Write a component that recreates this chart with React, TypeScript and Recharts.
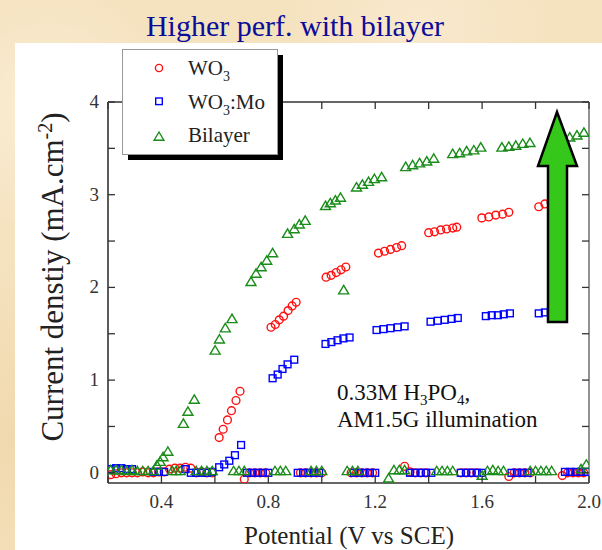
import React from 'react';
import { ScatterChart, Scatter, XAxis, YAxis } from 'recharts';

// axis ticks
const xTicks = [0.2, 0.4, 0.6, 0.8, 1.0, 1.2, 1.4, 1.6, 1.8, 2.0];
const xTickLabels = ['', '0.4', '', '0.8', '', '1.2', '', '1.6', '', '2.0'];
const yTicks = [0, 0.5, 1, 1.5, 2, 2.5, 3, 3.5, 4];
const yTickLabels = ['0', '', '1', '', '2', '', '3', '', '4'];

// WO3 (chopped light: light-on groups and dark groups)
const wo3Potential = [
  0.21, 0.23, 0.25, 0.27, 0.29, 0.31, 0.33, 0.35, 0.37, 0.39, 0.41,
  0.43, 0.45, 0.47, 0.49, 0.51,
  0.53, 0.55, 0.57, 0.59,
  0.616, 0.631, 0.647, 0.662, 0.679, 0.694,
  0.71, 0.73, 0.75, 0.77, 0.79,
  0.81, 0.826, 0.841, 0.857, 0.874, 0.889, 0.904,
  0.92, 0.94, 0.96, 0.98, 1.0,
  1.016, 1.035, 1.054, 1.072, 1.09,
  1.11, 1.13, 1.15, 1.17, 1.19,
  1.212, 1.235, 1.257, 1.28, 1.299,
  1.31, 1.33, 1.35, 1.37, 1.39,
  1.4, 1.422, 1.445, 1.467, 1.49, 1.505,
  1.52, 1.54, 1.56, 1.58,
  1.599, 1.625, 1.651, 1.677, 1.7,
  1.7, 1.72, 1.74, 1.76, 1.78,
  1.812, 1.835, 1.858, 1.88,
  1.9, 1.92, 1.94, 1.96, 1.98,
];
const wo3Current = [
  -0.02, -0.01, 0, 0, 0, 0, 0.01, 0, 0, 0.01, 0.01,
  0.04, 0.05, 0.05, 0.06, 0.05,
  0, 0.01, 0, 0,
  0.38, 0.47, 0.57, 0.67, 0.78, 0.88,
  -0.07, 0, 0, 0, 0,
  1.57, 1.6, 1.65, 1.69, 1.75, 1.8, 1.84,
  0, 0, 0, 0, 0,
  2.11, 2.13, 2.16, 2.19, 2.22,
  0, 0, 0, 0, 0,
  2.37, 2.39, 2.41, 2.43, 2.45,
  0.07, 0.01, 0, 0, 0,
  2.59, 2.6, 2.62, 2.63, 2.64, 2.65,
  0, 0, 0, 0,
  2.75, 2.76, 2.78, 2.79, 2.81,
  -0.04, 0, 0, 0, 0,
  2.87, 2.9, 2.92, 2.94,
  -0.03, 0, 0, 0, 0,
];

// WO3:Mo
const moPotential = [
  0.21, 0.23, 0.25, 0.27, 0.29,
  0.37, 0.39, 0.41,
  0.49, 0.51, 0.53, 0.55, 0.57, 0.59,
  0.616, 0.635, 0.654, 0.675, 0.698,
  0.72, 0.74, 0.76, 0.78, 0.8,
  0.816, 0.835, 0.853, 0.872, 0.897,
  0.91, 0.93, 0.95, 0.97, 0.99,
  1.014, 1.036, 1.059, 1.081, 1.104,
  1.12, 1.14, 1.16, 1.18, 1.2,
  1.205, 1.231, 1.257, 1.284, 1.31,
  1.33, 1.35, 1.37, 1.39, 1.41,
  1.407, 1.434, 1.46, 1.486, 1.509,
  1.52, 1.54, 1.56, 1.58, 1.6,
  1.614, 1.636, 1.659, 1.681, 1.704,
  1.71, 1.73, 1.75, 1.77,
  1.812, 1.835, 1.857, 1.88,
  1.91, 1.93, 1.95, 1.97, 1.99,
];
const moCurrent = [
  0.04, 0.05, 0.05, 0.04, 0.04,
  0.01, 0.01, 0.01,
  0.04, 0, 0, 0, 0, 0.01,
  0.06, 0.09, 0.13, 0.19, 0.3,
  0, 0, 0, 0, 0,
  1.02, 1.06, 1.12, 1.17, 1.22,
  0, 0, 0, 0, 0,
  1.39, 1.41, 1.43, 1.45, 1.46,
  0, 0, 0, 0, 0,
  1.54, 1.55, 1.56, 1.57, 1.58,
  0, 0, 0, 0, 0,
  1.63, 1.64, 1.65, 1.66, 1.67,
  0, 0, 0, 0, 0,
  1.69, 1.7, 1.7, 1.71, 1.72,
  0, 0, 0, 0,
  1.72, 1.73, 1.74, 1.75,
  0.01, 0.01, 0.01, 0.01, 0.01,
];

// Bilayer
const bilayerPotential = [
  0.21, 0.23, 0.25, 0.27, 0.29, 0.31, 0.33, 0.35, 0.37,
  0.383, 0.395, 0.406, 0.424,
  0.44, 0.455, 0.47,
  0.482, 0.499, 0.523,
  0.53, 0.55, 0.57, 0.59,
  0.601, 0.617, 0.639, 0.664,
  0.67, 0.69, 0.71,
  0.735, 0.754, 0.773, 0.794, 0.816,
  0.825, 0.845, 0.865,
  0.872, 0.897, 0.916, 0.938,
  0.96, 0.98, 1.0,
  1.014, 1.032, 1.051, 1.07,
  1.082,
  1.095, 1.115, 1.135,
  1.13, 1.152, 1.175, 1.197, 1.224,
  1.25, 1.27, 1.29, 1.31,
  1.314, 1.34, 1.366, 1.393, 1.419,
  1.43, 1.45, 1.47, 1.49,
  1.49, 1.516, 1.542, 1.569, 1.595,
  1.6, 1.62, 1.64, 1.66, 1.68,
  1.674, 1.7, 1.726, 1.752, 1.779,
  1.78, 1.8, 1.82, 1.84, 1.86,
  1.902, 1.928, 1.955, 1.981,
  1.97, 1.99,
];
const bilayerCurrent = [
  0.03, 0.03, 0.03, 0.02, 0.03, 0.02, 0.02, 0.02, 0.02,
  0.08, 0.12, 0.17, 0.23,
  0.02, 0.02, 0.02,
  0.53, 0.66, 0.79,
  0.02, 0.02, 0.02, 0.02,
  1.32, 1.44, 1.56, 1.66,
  0.02, 0.02, 0.02,
  2.06, 2.15, 2.22, 2.29, 2.37,
  0.02, 0.02, 0.02,
  2.58, 2.63, 2.68, 2.72,
  0.02, 0.02, 0.02,
  2.88, 2.91, 2.94, 2.97,
  1.97,
  0.02, 0.02, 0.02,
  3.08, 3.11, 3.14, 3.17, 3.19,
  -0.06, 0.03, 0.03, 0.03,
  3.3, 3.32, 3.34, 3.36, 3.39,
  0.02, 0.02, 0.02, 0.02,
  3.44, 3.45, 3.47, 3.48, 3.51,
  -0.03, 0.02, 0.03, 0.02, 0.02,
  3.51, 3.52, 3.53, 3.55, 3.56,
  0.02, 0.02, 0.02, 0.02, 0.02,
  3.6, 3.62, 3.64, 3.67,
  0.04, 0.09,
];

const toPoints = (xs: number[], ys: number[]) => xs.map((x, i) => ({ x, y: ys[i] }));
const wo3Data = toPoints(wo3Potential, wo3Current);
const moData = toPoints(moPotential, moCurrent);
const bilayerData = toPoints(bilayerPotential, bilayerCurrent);

const SERIF = '"Liberation Serif", "Times New Roman", serif';
const AXIS = '#333';

const CircleMark = (p: any) => (
  <circle cx={p.cx} cy={p.cy} r={3.9} fill="none" stroke="#ff1010" strokeWidth={1.4} />
);
const SquareMark = (p: any) => (
  <rect x={p.cx - 3.4} y={p.cy - 3.4} width={6.8} height={6.8} fill="none" stroke="#0000ff" strokeWidth={1.4} />
);
const TriangleMark = (p: any) => (
  <polygon
    points={`${p.cx},${p.cy - 4.7} ${p.cx + 5},${p.cy + 3.7} ${p.cx - 5},${p.cy + 3.7}`}
    fill="none"
    stroke="#1a8c1a"
    strokeWidth={1.4}
  />
);

const BottomTick = (p: any) => (
  <g>
    <line x1={p.x} x2={p.x} y1={p.y} y2={p.y - 7} stroke={AXIS} strokeWidth={1.3} />
    <text x={p.x} y={p.y + 25} textAnchor="middle" fontSize={19} fontFamily={SERIF} fill="#333">
      {xTickLabels[p.index]}
    </text>
  </g>
);
const TopTick = (p: any) => (
  <line x1={p.x} x2={p.x} y1={p.y} y2={p.y + 7} stroke={AXIS} strokeWidth={1.3} />
);
const LeftTick = (p: any) => (
  <g>
    <line x1={p.x} x2={p.x + 7} y1={p.y} y2={p.y} stroke={AXIS} strokeWidth={1.3} />
    <text x={p.x - 9} y={p.y + 6} textAnchor="end" fontSize={19} fontFamily={SERIF} fill="#333">
      {yTickLabels[p.index]}
    </text>
  </g>
);
const RightTick = (p: any) => (
  <line x1={p.x} x2={p.x - 7} y1={p.y} y2={p.y} stroke={AXIS} strokeWidth={1.3} />
);

export default function App() {
  return (
    <div
      style={{
        position: 'fixed',
        left: 0,
        top: 0,
        width: 602,
        height: 550,
        overflow: 'hidden',
        background:
          'radial-gradient(circle at 8% 20%, #fbeed6 0, rgba(251,238,214,0) 18%), radial-gradient(circle at 70% 5%, #f9e9cd 0, rgba(249,233,205,0) 20%), radial-gradient(circle at 2% 80%, #f1d9ae 0, rgba(241,217,174,0) 25%), #f5e2bf',
      }}
    >
      <div style={{ position: 'absolute', left: 15, top: 43, width: 587, height: 507, background: '#ffffff' }} />
      <div style={{ position: 'absolute', left: 0, top: 0 }}>
        <ScatterChart width={602} height={550} margin={{ top: 101, right: 12, bottom: 66, left: 107 }}>
          <XAxis
            xAxisId="b"
            type="number"
            dataKey="x"
            orientation="bottom"
            domain={[0.2, 2.0]}
            ticks={xTicks}
            allowDataOverflow
            height={1}
            tickSize={0}
            tickMargin={0}
            tickLine={false}
            tick={BottomTick}
            axisLine={{ stroke: AXIS, strokeWidth: 1.6 }}
          />
          <XAxis
            xAxisId="t"
            type="number"
            dataKey="x"
            orientation="top"
            domain={[0.2, 2.0]}
            ticks={xTicks}
            allowDataOverflow
            height={1}
            tickSize={0}
            tickMargin={0}
            tickLine={false}
            tick={TopTick}
            axisLine={{ stroke: AXIS, strokeWidth: 1.6 }}
          />
          <YAxis
            yAxisId="l"
            type="number"
            dataKey="y"
            orientation="left"
            domain={[-0.11, 4.0]}
            ticks={yTicks}
            allowDataOverflow
            width={1}
            tickSize={0}
            tickMargin={0}
            tickLine={false}
            tick={LeftTick}
            axisLine={{ stroke: AXIS, strokeWidth: 1.6 }}
          />
          <YAxis
            yAxisId="r"
            type="number"
            dataKey="y"
            orientation="right"
            domain={[-0.11, 4.0]}
            ticks={yTicks}
            allowDataOverflow
            width={1}
            tickSize={0}
            tickMargin={0}
            tickLine={false}
            tick={RightTick}
            axisLine={{ stroke: '#777', strokeWidth: 1.6 }}
          />
          <Scatter xAxisId="t" yAxisId="r" data={[{ x: 0.2, y: -1 }]} shape={() => <g />} isAnimationActive={false} />
          <Scatter xAxisId="b" yAxisId="l" name="WO3" data={wo3Data} shape={CircleMark} isAnimationActive={false} />
          <Scatter xAxisId="b" yAxisId="l" name="WO3:Mo" data={moData} shape={SquareMark} isAnimationActive={false} />
          <Scatter xAxisId="b" yAxisId="l" name="Bilayer" data={bilayerData} shape={TriangleMark} isAnimationActive={false} />
        </ScatterChart>
      </div>
      <svg
        width={602}
        height={550}
        style={{ position: 'absolute', left: 0, top: 0, pointerEvents: 'none' }}
        fontFamily={SERIF}
      >
        <text x={295} y={36} textAnchor="middle" fontSize={30} fill="#0c0c9a">
          Higher perf. with bilayer
        </text>

        {/* legend with drop shadow */}
        <rect x={128} y={55} width={155} height={105} fill="#000" />
        <rect x={122.5} y={49.5} width={155} height={105} fill="#fff" stroke="#999" strokeWidth={1} />
        <circle cx={159} cy={68} r={3.6} fill="none" stroke="#ff1010" strokeWidth={1.4} />
        <rect x={155.7} y={98} width={6.6} height={6.6} fill="none" stroke="#0000ff" strokeWidth={1.4} />
        <polygon points="159,132 163.9,140.2 154.1,140.2" fill="none" stroke="#1a8c1a" strokeWidth={1.4} />
        <text x={188} y={75} fontSize={21} fill="#222">
          WO<tspan dy={6} fontSize={14}>3</tspan>
        </text>
        <text x={188} y={108.5} fontSize={21} fill="#222">
          WO<tspan dy={6} fontSize={14}>3</tspan>
          <tspan dy={-6}>:Mo</tspan>
        </text>
        <text x={188} y={142} fontSize={21} fill="#222">
          Bilayer
        </text>

        <text x={337} y={400} fontSize={23} fill="#111">
          0.33M H<tspan dy={5} fontSize={15}>3</tspan>
          <tspan dy={-5}>PO</tspan>
          <tspan dy={5} fontSize={15}>4</tspan>
          <tspan dy={-5}>,</tspan>
        </text>
        <text x={337} y={427} fontSize={23} fill="#111">
          AM1.5G illumination
        </text>

        <polygon
          points="557,112 577,166 567,166 567,322 548,322 548,166 538,166"
          fill="#35c81a"
          stroke="#000"
          strokeWidth={2.5}
        />

        <text transform="translate(63,277) rotate(-90)" textAnchor="middle" fontSize={31} fill="#222">
          Current denstiy (mA.cm<tspan dy={-11} fontSize={20}>-2</tspan>
          <tspan dy={11}>)</tspan>
        </text>
        <text x={349} y={544} textAnchor="middle" fontSize={25} fill="#222">
          Potential (V vs SCE)
        </text>
      </svg>
    </div>
  );
}
